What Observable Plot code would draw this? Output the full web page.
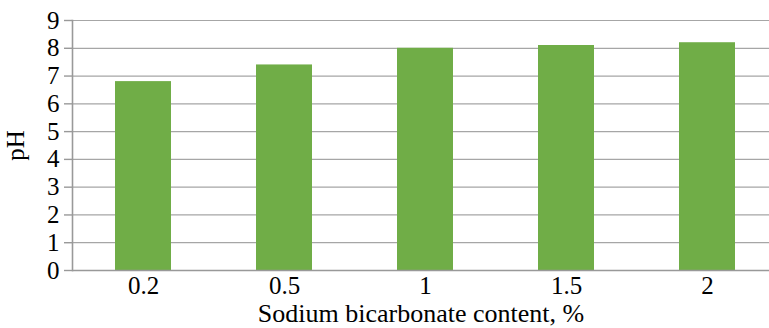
<!DOCTYPE html>
<html>
<head>
<meta charset="utf-8">
<script src="https://cdn.jsdelivr.net/npm/d3@7"></script>
<script src="https://cdn.jsdelivr.net/npm/@observablehq/plot@0.6"></script>
<style>
  html, body { margin: 0; padding: 0; background: #fff; }
  svg { display: block; }
</style>
</head>
<body>
<div id="chart"></div>
<script>
const categories = ["0.2", "0.5", "1", "1.5", "2"];
const values = [6.8, 7.4, 8.0, 8.1, 8.2];
const yTicks = [0, 1, 2, 3, 4, 5, 6, 7, 8, 9];
const xTitle = "Sodium bicarbonate content, %";
const yTitle = "pH";

const data = categories.map((c, i) => ({cat: c, value: values[i]}));
const font = "'Liberation Serif', serif";

const chart = Plot.plot({
  width: 769,
  height: 328,
  marginLeft: 72,
  marginTop: 20,
  marginBottom: 58,
  marginRight: 0,
  style: {fontFamily: font, fontSize: "25px", color: "#000", background: "#fff"},
  x: {domain: categories, range: [72, 779], paddingInner: 0.6, paddingOuter: 0.3, label: null},
  y: {domain: [0, 9], label: null},
  marks: [
    Plot.ruleY(yTicks.filter(d => d > 0), {stroke: "#a6a6a6", strokeWidth: 1.2}),
    Plot.barY(data, {x: "cat", y: "value", fill: "#70AD47"}),
    Plot.ruleY([0], {stroke: "#999", strokeWidth: 1.6}),
    Plot.frame({anchor: "left", stroke: "#999", strokeWidth: 1.6}),
    Plot.axisY(yTicks, {tickSize: 8, tickPadding: 5, stroke: "#999", strokeWidth: 1.4, fontSize: 25, fill: "#000"}),
    Plot.axisX({tickSize: 0, tickPadding: 6, fontSize: 25, fill: "#000"}),
    Plot.text([xTitle], {frameAnchor: "bottom", textAnchor: "middle", lineAnchor: "bottom", dy: 51, fontSize: 26, fill: "#000"}),
    Plot.text([yTitle], {frameAnchor: "left", textAnchor: "middle", lineAnchor: "middle", dx: -57, rotate: -90, fontSize: 25, fill: "#000"})
  ]
});
document.getElementById("chart").appendChild(chart);
</script>
</body>
</html>
